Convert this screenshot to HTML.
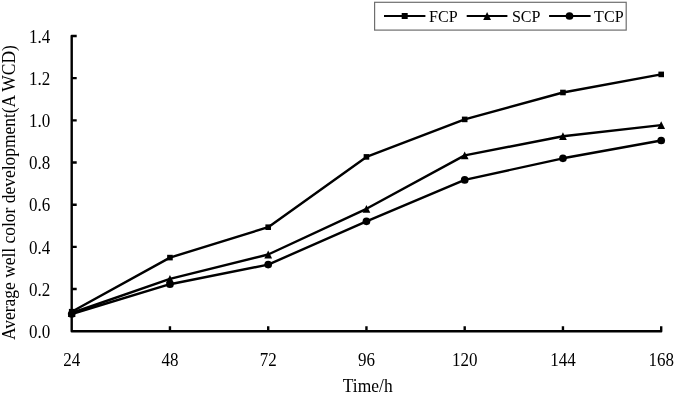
<!DOCTYPE html>
<html><head><meta charset="utf-8"><style>
html,body{margin:0;padding:0;background:#fff;}
svg{display:block;will-change:transform;}
text{font-family:"Liberation Serif",serif;fill:#000;}
</style></head><body>
<svg width="675" height="393" viewBox="0 0 675 393" xmlns="http://www.w3.org/2000/svg">
<path d="M76.7 36H71.7V331.2H661.2V326.2" fill="none" stroke="#000" stroke-width="2.4" stroke-linejoin="round"/>
<path d="M71.7 289.03h5M71.7 246.86h5M71.7 204.69h5M71.7 162.51h5M71.7 120.34h5M71.7 78.17h5M169.95 331.2v-5M268.20 331.2v-5M366.45 331.2v-5M464.70 331.2v-5M562.95 331.2v-5" fill="none" stroke="#000" stroke-width="2.4"/>
<text transform="translate(50.2,338.00) scale(0.93,1)" text-anchor="end" font-size="18.3">0.0</text>
<text transform="translate(50.2,295.83) scale(0.93,1)" text-anchor="end" font-size="18.3">0.2</text>
<text transform="translate(50.2,253.66) scale(0.93,1)" text-anchor="end" font-size="18.3">0.4</text>
<text transform="translate(50.2,211.49) scale(0.93,1)" text-anchor="end" font-size="18.3">0.6</text>
<text transform="translate(50.2,169.31) scale(0.93,1)" text-anchor="end" font-size="18.3">0.8</text>
<text transform="translate(50.2,127.14) scale(0.93,1)" text-anchor="end" font-size="18.3">1.0</text>
<text transform="translate(50.2,84.97) scale(0.93,1)" text-anchor="end" font-size="18.3">1.2</text>
<text transform="translate(50.2,42.80) scale(0.93,1)" text-anchor="end" font-size="18.3">1.4</text>
<text transform="translate(71.70,366) scale(0.93,1)" text-anchor="middle" font-size="18.3">24</text>
<text transform="translate(169.95,366) scale(0.93,1)" text-anchor="middle" font-size="18.3">48</text>
<text transform="translate(268.20,366) scale(0.93,1)" text-anchor="middle" font-size="18.3">72</text>
<text transform="translate(366.45,366) scale(0.93,1)" text-anchor="middle" font-size="18.3">96</text>
<text transform="translate(464.70,366) scale(0.93,1)" text-anchor="middle" font-size="18.3">120</text>
<text transform="translate(562.95,366) scale(0.93,1)" text-anchor="middle" font-size="18.3">144</text>
<text transform="translate(661.20,366) scale(0.93,1)" text-anchor="middle" font-size="18.3">168</text>
<text transform="translate(367.7,391.8) scale(0.92,1)" text-anchor="middle" font-size="19">Time/h</text>
<text transform="translate(14.6,340) rotate(-90)" x="0" y="0" font-size="19" textLength="294.8" lengthAdjust="spacingAndGlyphs">Average well color development(A WCD)</text>
<polyline points="71.70,311.70 169.95,257.60 268.20,227.20 366.45,156.90 464.70,119.40 562.95,92.50 661.20,74.40" fill="none" stroke="#000" stroke-width="2.4" stroke-linejoin="round"/>
<polyline points="71.70,313.00 169.95,278.80 268.20,254.50 366.45,208.80 464.70,155.40 562.95,136.20 661.20,125.10" fill="none" stroke="#000" stroke-width="2.4" stroke-linejoin="round"/>
<polyline points="71.70,314.00 169.95,284.20 268.20,264.60 366.45,221.30 464.70,179.90 562.95,158.30 661.20,140.50" fill="none" stroke="#000" stroke-width="2.4" stroke-linejoin="round"/>
<g fill="#000"><rect x="68.90" y="308.90" width="5.6" height="5.6"/><rect x="167.15" y="254.80" width="5.6" height="5.6"/><rect x="265.40" y="224.40" width="5.6" height="5.6"/><rect x="363.65" y="154.10" width="5.6" height="5.6"/><rect x="461.90" y="116.60" width="5.6" height="5.6"/><rect x="560.15" y="89.70" width="5.6" height="5.6"/><rect x="658.40" y="71.60" width="5.6" height="5.6"/><path d="M71.70 309.10L75.60 316.90L67.80 316.90Z"/><path d="M169.95 274.90L173.85 282.70L166.05 282.70Z"/><path d="M268.20 250.60L272.10 258.40L264.30 258.40Z"/><path d="M366.45 204.90L370.35 212.70L362.55 212.70Z"/><path d="M464.70 151.50L468.60 159.30L460.80 159.30Z"/><path d="M562.95 132.30L566.85 140.10L559.05 140.10Z"/><path d="M661.20 121.20L665.10 129.00L657.30 129.00Z"/><circle cx="71.70" cy="314.00" r="3.85"/><circle cx="169.95" cy="284.20" r="3.85"/><circle cx="268.20" cy="264.60" r="3.85"/><circle cx="366.45" cy="221.30" r="3.85"/><circle cx="464.70" cy="179.90" r="3.85"/><circle cx="562.95" cy="158.30" r="3.85"/><circle cx="661.20" cy="140.50" r="3.85"/></g>
<rect x="374.6" y="2.3" width="251.6" height="27.8" fill="#fff" stroke="#6e6e6e" stroke-width="1.2"/>
<path d="M384 16.0H425.4M466.7 16.0H507.4M549.1 16.0H590.6" stroke="#000" stroke-width="2.2"/>
<g fill="#000"><rect x="401.70" y="13.00" width="6" height="6"/><path d="M487.10 12.10L491.00 19.90L483.20 19.90Z"/><circle cx="569.50" cy="16.00" r="3.85"/></g>
<text transform="translate(429,22) scale(0.975,1)" font-size="16.5">FCP</text>
<text transform="translate(511.9,22) scale(0.975,1)" font-size="16.5">SCP</text>
<text transform="translate(594.1,22) scale(0.975,1)" font-size="16.5">TCP</text>
</svg>
</body></html>
